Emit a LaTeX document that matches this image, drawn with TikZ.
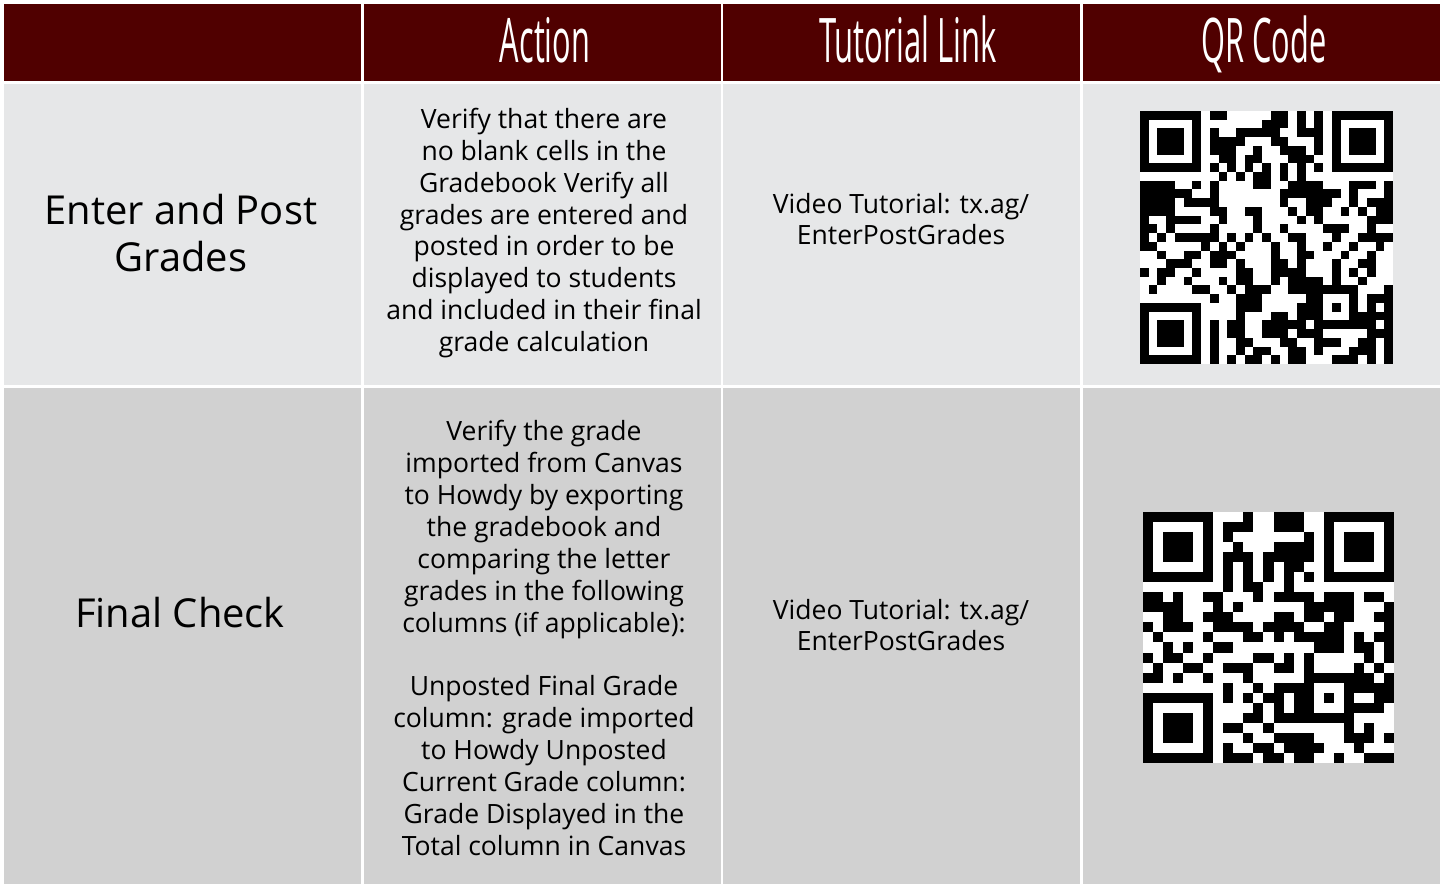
\documentclass[tikz,border=0pt]{standalone}
\usepackage{fontspec}
\setmainfont{Open Sans}
\definecolor{maroon}{HTML}{500000}
\definecolor{rowone}{HTML}{E6E7E8}
\definecolor{rowtwo}{HTML}{D1D1D1}

\newcount\qrcol
\def\qrstop{\qrstop}
\def\qrscan#1{\ifx#1\qrstop\else
    \if#11\fill (\the\qrcol,\qrrow) rectangle ++(1,1);\fi
    \advance\qrcol by 1\relax\expandafter\qrscan\fi}
\newcommand\qrcode[1]{%
  \foreach \bits [count=\qrrow from 0] in {#1}
    {\qrcol=0 \expandafter\qrscan\bits\qrstop}}

\begin{document}
\begin{tikzpicture}[x=0.02cm, y=-0.02cm,
    head node/.style={text=white, anchor=base, font=\fontsize{35}{40}\selectfont},
    title node/.style={align=center, font=\fontsize{22.7}{27.2}\selectfont},
    cell node/.style={align=center, font=\fontsize{15.1}{18.14}\selectfont}]

  \fill[white] (0,0) rectangle (1443,884);
  \foreach \xa/\xb in {4/361,364/721,723/1080,1083/1440} {
    \fill[maroon] (\xa,4) rectangle (\xb,81);
    \fill[rowone] (\xa,84) rectangle (\xb,385);
    \fill[rowtwo] (\xa,388) rectangle (\xb,884);
  }

  \node[head node] (action) at (545,63) {\scalebox{0.5}[1]{Action}};
  \node[head node] (link) at (908,63) {\scalebox{0.505}[1]{Tutorial Link}};
  \node[head node] (qr) at (1264,63) {\scalebox{0.5}[1]{QR Code}};

  \node[title node] (enter) at (181,233) {Enter and Post\\Grades};
  \node[title node] (final) at (180,613) {Final Check};

  \node[cell node] (verify) at (544,233) {Verify that there are\\no blank cells in the\\Gradebook Verify all\\grades are entered and\\posted in order to be\\displayed to students\\and included in their final\\grade calculation};
  \node[cell node] (check) at (544,638) {Verify the grade\\imported from Canvas\\to Howdy by exporting\\the gradebook and\\comparing the letter\\grades in the following\\columns (if applicable):\\[18.14pt]Unposted Final Grade\\column: grade imported\\to Howdy Unposted\\Current Grade column:\\Grade Displayed in the\\Total column in Canvas};

  \node[cell node] (video1) at (901,219) {Video Tutorial: tx.ag/\\EnterPostGrades};
  \node[cell node] (video2) at (901,625) {Video Tutorial: tx.ag/\\EnterPostGrades};

  % qr codes
  \begin{scope}[shift={(1140,111)}, x=0.17448cm, y=-0.17448cm]
    \fill[white] (0,0) rectangle (29,29);
    \qrcode{11111110110000011010101111111,10000010000000111010101000001,
      10111010100111110011101011101,10111010111100011000101011101,
      10111010111001001110101011101,10000010011011000111001000001,
      11111110101010101010101111111,00000000010101101010000000000,
      11110010100001100111100011101,11111100100000001111111010001,
      11110111100000001001110010111,11110000110011000101100101011,
      10011110010001000010100000111,11010000100001001000011100100,
      10101111101010100110001001111,11000001010100010010010010010,
      00100110111000010011000100100,00011100110100011010001001100,
      10110010000110011110001010100,00100100010110010111101001000,
      01000011001011100111111110001,00000000100111000001100010111,
      11111110000111000011101010101,10000010000100011011100011111,
      10111010101100111110111111101,10111010101100111011100000111,
      10111010100110001100111001101,10000010100101100110100011101,
      11111110101011010110001110101}
  \end{scope}
  \begin{scope}[shift={(1143,512)}, x=0.2008cm, y=-0.2008cm]
    \fill[white] (0,0) rectangle (25,25);
    \qrcode{1111111000100111001111111,1000001011100111001000001,
      1011101010000000101011101,1011101001000111101011101,
      1011101011101111101011101,1000001010101011001000001,
      1111111010101010101111111,0000000010110010000000000,
      1101001100010111101110110,1111000101000000111110001,
      0011001110000110110110011,1011100111101111001100001,
      0100001000110101111101011,0010100110000000011101101,
      1011001000011010100000101,0100110011100110100001010,
      1101001000100000111111101,0000000010010111100011111,
      1111111010101101101010011,1000001000010101100011110,
      1011101000110111111110000,1011101011001000000010100,
      1011101000100111100011101,1000001010011011110001000,
      1111111011101101100100111}
  \end{scope}
\end{tikzpicture}
\end{document}
